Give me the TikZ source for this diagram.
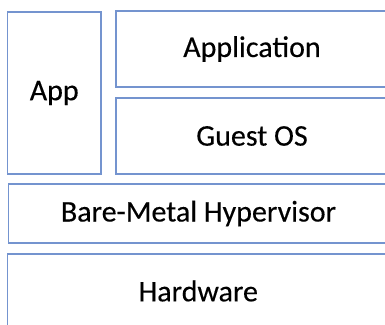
\documentclass[tikz,border=0pt]{standalone}
\usepackage{fontspec}
\setmainfont{Carlito}[FakeBold=0.3]
\definecolor{layerline}{RGB}{116,148,207}
\begin{document}
\begin{tikzpicture}[x=1pt,y=-1pt,
  layer/.style={draw=layerline, line width=1.3pt, fill=white, inner sep=0pt,
    font=\fontsize{30}{32}\selectfont, text=black},
]
\useasboundingbox (0,0) rectangle (385,324);
\begin{scope}
\clip (0,0) rectangle (385,324);
% stack of layers, top to bottom
\node[layer, minimum width=93.5pt, minimum height=162pt] (app) at (54.25,93) {App};
\node[layer, minimum width=272pt, minimum height=76pt] (application) at (252,49) {Application};
\node[layer, minimum width=272pt, minimum height=76pt] (guest) at (252,136) {Guest OS};
\node[layer, minimum width=380pt, minimum height=59pt] (hyper) at (198.5,213.5) {Bare-Metal Hypervisor};
\node[layer, minimum width=381.5pt, minimum height=74pt] (hw) at (198.25,291) {Hardware};
\end{scope}
\end{tikzpicture}
\end{document}
